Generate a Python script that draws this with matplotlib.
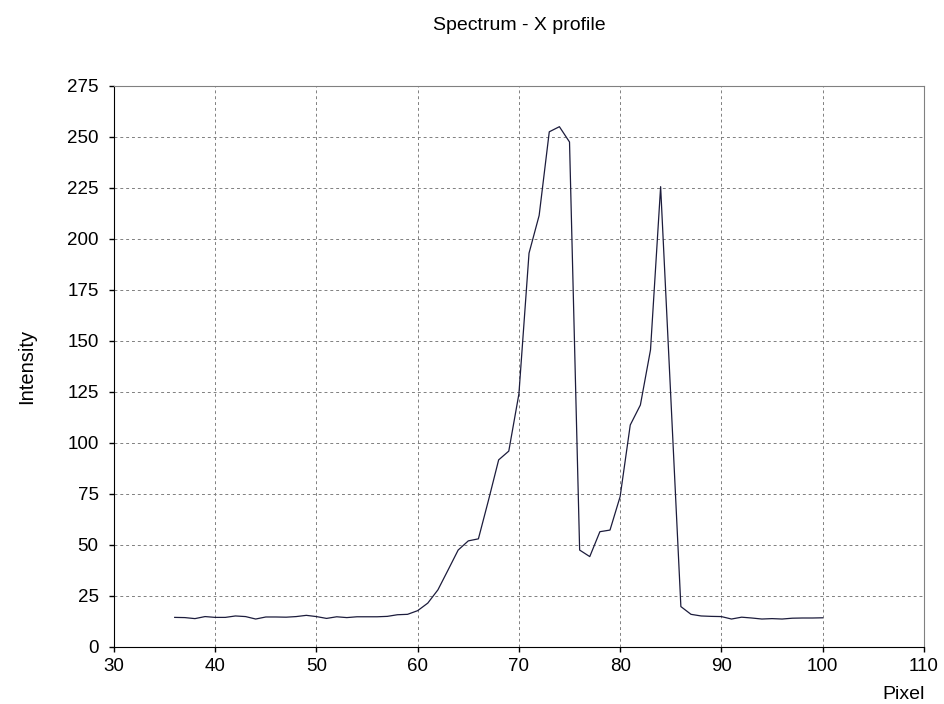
import matplotlib
matplotlib.use("Agg")
from matplotlib import pyplot as plt

plt.rcParams["font.family"] = ["Liberation Sans", "DejaVu Sans"]

pixel = list(range(36, 101))
intensity = [
    14.5, 14.4, 13.9, 14.9, 14.5, 14.5, 15.2, 14.9, 13.7, 14.7,   # 36-45
    14.7, 14.6, 14.9, 15.5, 14.9, 14.0, 14.8, 14.4, 14.8, 14.8,   # 46-55
    14.8, 15.0, 15.8, 16.0, 17.8, 21.5, 28.0, 37.7, 47.5, 52.0,   # 56-65
    53.0, 72.0, 91.7, 96.0, 124.0, 193.0, 211.5, 252.5, 255.0, 247.5,  # 66-75
    47.5, 44.3, 56.5, 57.3, 73.7, 108.8, 118.6, 145.6, 225.6, 123.0,  # 76-85
    19.8, 16.0, 15.2, 15.0, 14.9, 13.7, 14.6, 14.2, 13.7, 13.9,   # 86-95
    13.7, 14.1, 14.2, 14.2, 14.3,                                 # 96-100
]
xticks = list(range(30, 111, 10))
yticks = list(range(0, 276, 25))

fig = plt.figure(figsize=(9.45, 7.04), dpi=100)
ax = fig.add_axes([0.1206, 0.081, 0.857, 0.797])

ax.plot(pixel, intensity, color="#1c1c3c", linewidth=0.9)

ax.set_xlim(30, 110)
ax.set_ylim(0, 275)
ax.set_xticks(xticks)
ax.set_yticks(yticks)
ax.tick_params(labelsize=13.5, direction="out", length=3.6, width=1)
ax.tick_params(axis="y", pad=7.5)
ax.tick_params(axis="x", pad=4.5)
ax.grid(True, color="#808080", linestyle=(0, (3, 3)), linewidth=0.7)

for side in ["top", "right"]:
    ax.spines[side].set_color("#808080")
for side in ["left", "bottom"]:
    ax.spines[side].set_color("black")

axc = 0.1206 + 0.857 / 2
fig.text(axc, 0.958, "Spectrum - X profile", ha="center", va="baseline", fontsize=14)
fig.text(0.028, 0.081 + 0.797 / 2, "Intensity", rotation=90, ha="center", va="center", fontsize=14.5)
fig.text(0.979, 0.007, "Pixel", ha="right", va="baseline", fontsize=14)

fig.savefig("out.png", dpi=100)
